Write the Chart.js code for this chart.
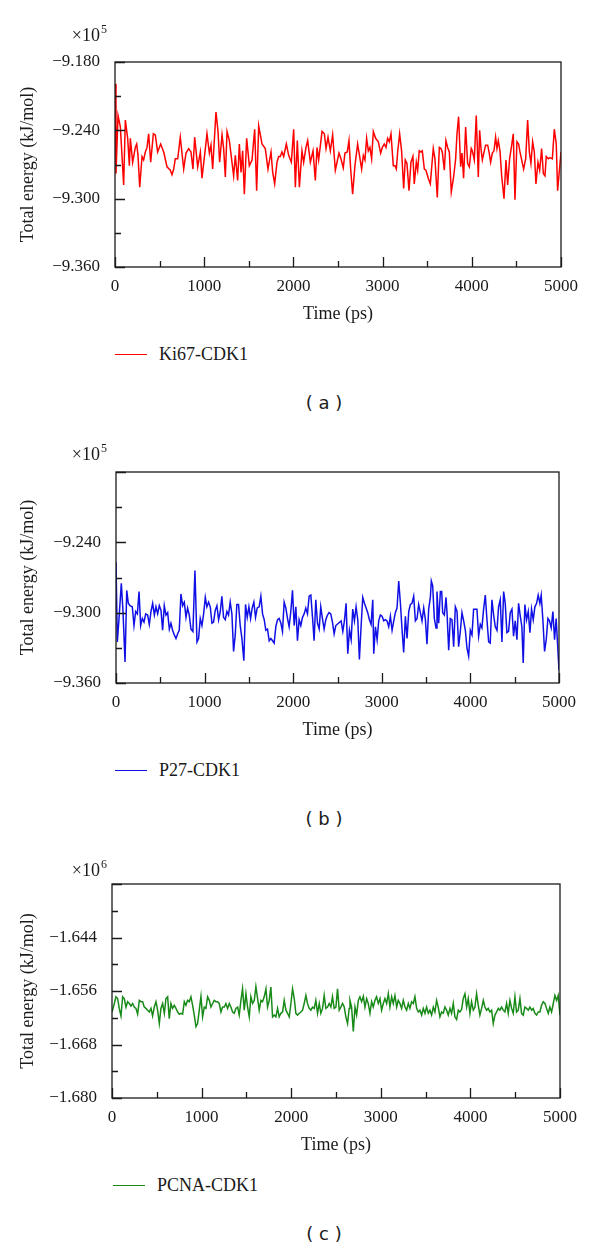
<!DOCTYPE html>
<html>
<head>
<meta charset="utf-8">
<script src="https://cdn.jsdelivr.net/npm/chart.js@4.4.1/dist/chart.umd.min.js"></script>
<style>
  body { margin: 0; background: #fff; width: 600px; height: 1249px; position: relative; overflow: hidden; }
  canvas { position: absolute; left: 0; }
  .legend { position: absolute; display: flex; align-items: center; font: 18px "Liberation Serif", serif; color: #1a1a1a; }
  .legend span.line { display: inline-block; width: 32px; height: 0; border-top: 1.5px solid; margin-right: 12px; }
  .caption { position: absolute; left: 274px; width: 100px; text-align: center; font: 18px "DejaVu Sans", sans-serif; color: #1a1a1a; }
</style>
</head>
<body>
<canvas id="chartA" width="600" height="340" style="top:0px"></canvas>
<canvas id="chartB" width="600" height="340" style="top:415px"></canvas>
<canvas id="chartC" width="600" height="340" style="top:830px"></canvas>

<div class="legend" style="left:115px; top:344px"><span class="line" style="border-color:#ff0000"></span>Ki67-CDK1</div>
<div class="caption" style="top:392px">( a )</div>
<div class="legend" style="left:115px; top:760px"><span class="line" style="border-color:#1010e6"></span>P27-CDK1</div>
<div class="caption" style="top:808px">( b )</div>
<div class="legend" style="left:113px; top:1175px"><span class="line" style="border-color:#188a18"></span>PCNA-CDK1</div>
<div class="caption" style="top:1223px">( c )</div>

<script>
// x axis: time in ps, labelled every 1000
const xTickLabels = [0, 1000, 2000, 3000, 4000, 5000];

// (a) Ki67-CDK1, energy in units of 10^5 kJ/mol
const timeA = [0,11,34,60,97,116,142,161,172,198,
  228,243,258,277,303,321,340,359,377,400,
  430,452,478,512,546,583,620,639,658,676,
  703,732,770,796,826,852,874,893,927,957,
  975,1013,1031,1058,1076,1095,1132,1155,1173,1200,
  1218,1237,1256,1282,1330,1349,1375,1394,1413,1431,
  1450,1476,1506,1536,1566,1588,1611,1648,1685,1715,
  1749,1768,1790,1816,1835,1853,1872,1891,1921,1947,
  1977,2003,2022,2044,2067,2096,2115,2141,2160,2190,
  2220,2246,2265,2283,2321,2347,2366,2388,2414,2440,
  2470,2489,
  2511,2533,2559,2578,2604,2623,2642,2664,2690,2720,
  2743,2765,2784,2802,2821,2840,2858,2877,2896,2922,
  2952,2978,2997,3019,3038,3056,3075,3094,3120,3139,
  3154,3169,3191,3213,3236,3254,3273,3296,3318,3340,
  3355,3378,3393,3411,3430,3445,3468,3486,3512,3535,
  3568,3587,3613,3636,3654,3669,3692,3710,3729,3748,
  3770,3796,3819,3834,3852,3875,3890,3908,3931,3953,
  3972,3994,4006,4028,4050,4073,4088,4103,4118,4140,
  4155,4178,4193,4211,4230,4249,4267,4282,4297,4316,
  4335,4361,4383,4402,4424,4447,4465,4484,4506,4525,
  4540,4559,4581,4604,4626,4645,4663,4682,4701,4719,
  4742,4761,4783,4802,4820,4835,4858,4876,4903,4925,
  4947,4962,5000];
const energyA = [-9.199,-9.278,-9.227,-9.237,-9.288,-9.231,-9.247,-9.271,-9.247,-9.268,
  -9.255,-9.252,-9.262,-9.290,-9.263,-9.266,-9.259,-9.255,-9.243,-9.268,
  -9.243,-9.244,-9.259,-9.252,-9.259,-9.272,-9.275,-9.279,-9.274,-9.265,
  -9.265,-9.246,-9.274,-9.260,-9.256,-9.259,-9.274,-9.246,-9.272,-9.259,
  -9.282,-9.256,-9.243,-9.260,-9.253,-9.274,-9.224,-9.241,-9.268,-9.244,
  -9.256,-9.281,-9.241,-9.249,-9.280,-9.262,-9.284,-9.252,-9.277,-9.258,
  -9.296,-9.247,-9.271,-9.266,-9.239,-9.293,-9.236,-9.252,-9.256,-9.274,
  -9.259,-9.277,-9.287,-9.268,-9.263,-9.263,-9.259,-9.263,-9.252,-9.262,
  -9.268,-9.239,-9.290,-9.249,-9.290,-9.258,-9.268,-9.255,-9.249,-9.268,
  -9.258,-9.284,-9.255,-9.266,-9.241,-9.243,-9.256,-9.246,-9.258,-9.244,
  -9.275,-9.268,
  -9.260,-9.265,-9.273,-9.260,-9.259,-9.249,-9.274,-9.296,-9.271,-9.252,
  -9.263,-9.274,-9.262,-9.266,-9.247,-9.258,-9.255,-9.265,-9.241,-9.247,
  -9.250,-9.260,-9.255,-9.252,-9.255,-9.247,-9.250,-9.243,-9.271,-9.271,
  -9.274,-9.259,-9.243,-9.258,-9.291,-9.266,-9.269,-9.293,-9.268,-9.263,
  -9.287,-9.268,-9.275,-9.258,-9.259,-9.258,-9.274,-9.275,-9.282,-9.287,
  -9.256,-9.265,-9.299,-9.255,-9.256,-9.259,-9.275,-9.249,-9.255,-9.259,
  -9.294,-9.281,-9.265,-9.243,-9.228,-9.272,-9.260,-9.282,-9.237,-9.269,
  -9.272,-9.256,-9.258,-9.266,-9.227,-9.281,-9.240,-9.256,-9.266,-9.258,
  -9.253,-9.253,-9.259,-9.268,-9.260,-9.258,-9.246,-9.256,-9.249,-9.258,
  -9.280,-9.300,-9.266,-9.288,-9.265,-9.253,-9.243,-9.301,-9.250,-9.252,
  -9.259,-9.266,-9.274,-9.265,-9.231,-9.259,-9.269,-9.250,-9.259,-9.287,
  -9.268,-9.275,-9.256,-9.278,-9.280,-9.263,-9.265,-9.264,-9.265,-9.239,
  -9.252,-9.293,-9.259];
const yLabelsA = [-9.360, -9.300, -9.240, -9.180];

// (b) P27-CDK1, energy in units of 10^5 kJ/mol
const timeB = [0,15,34,60,79,102,121,139,158,184,
  203,222,241,260,278,297,316,335,357,376,
  395,414,433,451,470,489,508,526,545,564,
  583,602,620,639,658,677,696,714,733,752,
  771,790,808,827,846,868,891,914,932,951,
  970,989,1008,1026,1045,1064,1083,1101,1120,1139,
  1158,1177,1195,1214,1233,1252,1270,1289,1308,1327,
  1346,1364,1383,1402,1421,1443,1462,1481,1500,1519,
  1537,1556,1575,1594,1616,1635,1654,1673,1691,1710,
  1729,1748,1767,1785,1804,1823,1842,1861,1879,1898,
  1917,1936,1954,1973,1992,2011,2030,2048,2067,2086,
  2105,2124,2142,2161,2180,2199,2218,2236,2255,2274,
  2293,2311,2330,2349,2368,2387,2405,2424,2443,2462,
  2481,
  2541,2560,2578,2597,2616,2635,2654,2672,2691,2710,
  2729,2747,2766,2785,2804,2823,2841,2860,2879,2898,
  2909,2928,2947,2965,2984,3003,3022,3041,3059,3078,
  3097,3116,3135,3153,3172,3191,3210,3229,3247,3266,
  3285,3304,3322,3341,3360,3379,3398,3416,3435,3454,
  3473,3492,3510,3529,3548,3559,3574,3593,3612,3623,
  3642,3661,3676,3687,3706,3725,3736,3755,3773,3792,
  3811,3830,3849,3867,3886,3905,3924,3943,3961,3980,
  3999,4018,4036,4055,4074,4093,4112,4130,4149,4168,
  4187,4206,4224,4243,4262,4281,4300,4318,4337,4356,
  4375,4393,4412,4431,4450,4469,4487,4506,4525,4544,
  4563,4581,4596,4615,4634,4653,4672,4690,4709,4728,
  4747,4765,4784,4799,4818,4837,4856,4875,4893,4912,
  4931,4950,4968,5000];
const energyB = [-9.257,-9.325,-9.305,-9.275,-9.299,-9.342,-9.281,-9.292,-9.294,-9.295,
  -9.311,-9.299,-9.301,-9.282,-9.311,-9.305,-9.308,-9.301,-9.302,-9.310,
  -9.299,-9.292,-9.302,-9.295,-9.301,-9.294,-9.298,-9.315,-9.294,-9.302,
  -9.300,-9.314,-9.309,-9.315,-9.319,-9.322,-9.318,-9.315,-9.284,-9.294,
  -9.291,-9.304,-9.296,-9.302,-9.314,-9.316,-9.264,-9.325,-9.322,-9.305,
  -9.311,-9.301,-9.287,-9.295,-9.291,-9.295,-9.309,-9.308,-9.298,-9.294,
  -9.306,-9.299,-9.286,-9.304,-9.306,-9.299,-9.302,-9.291,-9.301,-9.333,
  -9.319,-9.293,-9.293,-9.311,-9.322,-9.341,-9.293,-9.304,-9.295,-9.305,
  -9.296,-9.291,-9.304,-9.296,-9.295,-9.286,-9.301,-9.306,-9.315,-9.314,
  -9.324,-9.322,-9.324,-9.326,-9.312,-9.306,-9.305,-9.309,-9.316,-9.291,
  -9.296,-9.305,-9.312,-9.299,-9.281,-9.311,-9.295,-9.324,-9.306,-9.311,
  -9.304,-9.301,-9.296,-9.301,-9.286,-9.285,-9.304,-9.324,-9.289,-9.309,
  -9.314,-9.295,-9.305,-9.314,-9.306,-9.302,-9.300,-9.301,-9.308,-9.318,
  -9.311,
  -9.307,-9.316,-9.307,-9.292,-9.335,-9.315,-9.323,-9.297,-9.307,-9.295,
  -9.306,-9.340,-9.312,-9.287,-9.292,-9.296,-9.300,-9.306,-9.310,-9.289,
  -9.335,-9.312,-9.323,-9.307,-9.302,-9.303,-9.307,-9.306,-9.307,-9.312,
  -9.303,-9.315,-9.307,-9.300,-9.296,-9.273,-9.292,-9.315,-9.334,-9.303,
  -9.322,-9.299,-9.293,-9.292,-9.286,-9.307,-9.305,-9.293,-9.300,-9.307,
  -9.296,-9.306,-9.327,-9.297,-9.287,-9.273,-9.277,-9.305,-9.313,-9.282,
  -9.309,-9.282,-9.282,-9.300,-9.302,-9.287,-9.300,-9.332,-9.305,-9.306,
  -9.329,-9.295,-9.299,-9.329,-9.316,-9.300,-9.307,-9.315,-9.330,-9.337,
  -9.315,-9.319,-9.297,-9.297,-9.297,-9.320,-9.310,-9.313,-9.297,-9.285,
  -9.306,-9.325,-9.326,-9.289,-9.302,-9.312,-9.315,-9.295,-9.289,-9.325,
  -9.282,-9.292,-9.317,-9.316,-9.300,-9.297,-9.320,-9.307,-9.323,-9.292,
  -9.303,-9.312,-9.343,-9.293,-9.306,-9.299,-9.317,-9.297,-9.306,-9.295,
  -9.292,-9.285,-9.292,-9.285,-9.306,-9.333,-9.323,-9.305,-9.307,-9.313,
  -9.299,-9.323,-9.305,-9.349];
const yLabelsB = [-9.360, -9.300, -9.240];

// (c) PCNA-CDK1, energy in units of 10^6 kJ/mol
const timeC = [0,26,44,63,81,100,119,137,156,174,
  193,212,230,249,267,286,305,323,342,360,
  379,398,416,435,453,472,491,509,528,546,
  565,584,602,621,639,658,676,695,714,732,
  751,769,788,807,825,844,862,881,900,918,
  937,955,974,993,1011,1030,1048,1067,1086,1104,
  1123,1141,1160,1178,1197,1216,1234,1253,1271,1290,
  1309,1327,1346,1364,1383,1402,1420,1439,1457,1476,
  1495,1513,1532,1550,1569,1588,1606,1625,1643,1662,
  1680,1699,1718,1736,1755,1773,1792,1811,1829,1848,
  1866,1885,1904,1922,1941,1959,1978,1997,2015,2034,
  2052,2071,2090,2108,2127,2145,2164,2182,2201,2220,
  2238,2257,2275,2294,2313,2331,2350,2368,2387,2406,
  2424,2443,2461,2480,2499,2517,2536,2554,2573,2592,
  2610,2629,2647,
  2656,2674,2693,2712,2730,2749,2767,2786,2805,2823,
  2842,2860,2879,2898,2916,2935,2953,2972,2991,3009,
  3028,3046,3065,3084,3102,3121,3139,3158,3177,3195,
  3214,3232,3251,3270,3288,3307,3325,3344,3363,3381,
  3400,3418,3437,3456,3474,3493,3511,3530,3548,3567,
  3586,3604,3623,3641,3660,3679,3697,3716,3734,3753,
  3772,3790,3809,3827,3846,3865,3883,3902,3920,3939,
  3958,3976,3995,4013,4032,4051,4069,4088,4106,4125,
  4144,4162,4181,4199,4218,4237,4255,4274,4292,4311,
  4329,4348,4367,4385,4404,4422,4441,4460,4478,4497,
  4515,4534,4553,4571,4590,4608,4627,4646,4664,4683,
  4701,4720,4739,4757,4776,4794,4813,4832,4850,4869,
  4887,4906,4925,4943,4962,4980,5000];
const energyC = [-1.6607,-1.6588,-1.6573,-1.6577,-1.6599,-1.6616,-1.6573,-1.6577,-1.6596,-1.6584,
  -1.6588,-1.6594,-1.6588,-1.6596,-1.6599,-1.6612,-1.6581,-1.6584,-1.6584,-1.6596,
  -1.6599,-1.6603,-1.6607,-1.6599,-1.6616,-1.6596,-1.6584,-1.6603,-1.6633,-1.6599,
  -1.6588,-1.6610,-1.6577,-1.6573,-1.6622,-1.6588,-1.6599,-1.6592,-1.6599,-1.6607,
  -1.6612,-1.6610,-1.6612,-1.6584,-1.6592,-1.6581,-1.6584,-1.6573,-1.6592,-1.6614,
  -1.6640,-1.6633,-1.6603,-1.6572,-1.6618,-1.6596,-1.6599,-1.6573,-1.6581,-1.6596,
  -1.6588,-1.6581,-1.6584,-1.6584,-1.6588,-1.6607,-1.6596,-1.6596,-1.6588,-1.6599,
  -1.6588,-1.6596,-1.6607,-1.6610,-1.6599,-1.6596,-1.6614,-1.6581,-1.6555,-1.6603,
  -1.6566,-1.6596,-1.6618,-1.6573,-1.6588,-1.6581,-1.6550,-1.6577,-1.6603,-1.6581,
  -1.6584,-1.6573,-1.6555,-1.6596,-1.6581,-1.6551,-1.6618,-1.6614,-1.6618,-1.6599,
  -1.6618,-1.6610,-1.6607,-1.6581,-1.6603,-1.6610,-1.6618,-1.6588,-1.6555,-1.6577,
  -1.6610,-1.6614,-1.6610,-1.6607,-1.6603,-1.6588,-1.6570,-1.6588,-1.6599,-1.6603,
  -1.6596,-1.6599,-1.6581,-1.6610,-1.6588,-1.6610,-1.6599,-1.6570,-1.6599,-1.6596,
  -1.6588,-1.6596,-1.6573,-1.6599,-1.6596,-1.6555,-1.6603,-1.6596,-1.6588,-1.6596,
  -1.6618,-1.6633,-1.6599,
  -1.6581,-1.6596,-1.6651,-1.6596,-1.6614,-1.6581,-1.6573,-1.6584,-1.6572,-1.6596,
  -1.6577,-1.6588,-1.6610,-1.6584,-1.6596,-1.6581,-1.6573,-1.6588,-1.6577,-1.6603,
  -1.6588,-1.6577,-1.6588,-1.6566,-1.6596,-1.6573,-1.6588,-1.6570,-1.6596,-1.6581,
  -1.6588,-1.6599,-1.6581,-1.6596,-1.6603,-1.6588,-1.6599,-1.6584,-1.6588,-1.6573,
  -1.6599,-1.6607,-1.6603,-1.6614,-1.6599,-1.6610,-1.6596,-1.6610,-1.6603,-1.6614,
  -1.6596,-1.6607,-1.6581,-1.6596,-1.6618,-1.6607,-1.6610,-1.6596,-1.6603,-1.6614,
  -1.6599,-1.6610,-1.6588,-1.6618,-1.6624,-1.6603,-1.6607,-1.6601,-1.6577,-1.6566,
  -1.6596,-1.6577,-1.6610,-1.6584,-1.6603,-1.6596,-1.6566,-1.6592,-1.6614,-1.6599,
  -1.6581,-1.6596,-1.6603,-1.6599,-1.6607,-1.6603,-1.6633,-1.6614,-1.6607,-1.6599,
  -1.6603,-1.6596,-1.6603,-1.6607,-1.6588,-1.6610,-1.6581,-1.6599,-1.6610,-1.6573,
  -1.6607,-1.6603,-1.6577,-1.6610,-1.6614,-1.6596,-1.6599,-1.6603,-1.6596,-1.6603,
  -1.6599,-1.6610,-1.6614,-1.6607,-1.6607,-1.6592,-1.6584,-1.6588,-1.6599,-1.6610,
  -1.6596,-1.6607,-1.6588,-1.6570,-1.6581,-1.6570,-1.6614];
const yLabelsC = [-1.680, -1.668, -1.656, -1.644];

const TEXT = '#1a1a1a';
const SERIF = '"Liberation Serif", "Times New Roman", serif';

// frame, inward tick marks (long at labels, short between) and the x10^n factor
const axisDecor = {
  id: 'axisDecor',
  afterDraw(chart, args, opts) {
    const { ctx, chartArea: a, scales: { x, y } } = chart;
    ctx.save();
    ctx.strokeStyle = TEXT;
    ctx.lineWidth = 1.3;
    ctx.strokeRect(a.left, a.top, a.right - a.left, a.bottom - a.top);
    ctx.beginPath();
    x.ticks.forEach(t => {
      const px = Math.round(x.getPixelForValue(t.value)) + 0.5;
      const len = xTickLabels.includes(t.value) ? 10 : 6;
      ctx.moveTo(px, a.bottom);
      ctx.lineTo(px, a.bottom - len);
    });
    y.ticks.forEach(t => {
      const py = Math.round(y.getPixelForValue(t.value)) + 0.5;
      const k = Math.round((t.value - y.min) / opts.step);
      const len = k % 2 === 0 ? 10 : 6;
      ctx.moveTo(a.left, py);
      ctx.lineTo(a.left + len, py);
    });
    ctx.stroke();

    ctx.fillStyle = TEXT;
    ctx.textBaseline = 'alphabetic';
    ctx.textAlign = 'right';
    ctx.font = '18px ' + SERIF;
    ctx.fillText('\u00d710', opts.expX, opts.expY);
    ctx.textAlign = 'left';
    ctx.font = '12px ' + SERIF;
    ctx.fillText(opts.exp, opts.expX + 1, opts.expY - 8);
    ctx.restore();
  }
};

function isLabel(v, list) {
  return list.some(l => Math.abs(l - v) < 1e-6);
}

function makePanel(id, times, energies, color, yMin, yMax, yStep, yLabels, exp, geom) {
  const points = times.map((t, i) => ({ x: t, y: energies[i] }));
  return new Chart(document.getElementById(id), {
    type: 'line',
    data: {
      datasets: [{
        data: points,
        borderColor: color,
        borderWidth: 1.5,
        pointRadius: 0,
        tension: 0,
        fill: false
      }]
    },
    options: {
      responsive: false,
      animation: false,
      layout: { padding: { top: geom.top, right: geom.right, left: 0, bottom: 0 } },
      plugins: {
        legend: { display: false },
        tooltip: { enabled: false },
        axisDecor: { step: yStep, exp: exp, expX: 100, expY: geom.expY }
      },
      scales: {
        x: {
          type: 'linear',
          min: 0,
          max: 5000,
          grid: { display: false },
          border: { display: false },
          afterFit: s => { s.height = geom.xHeight; },
          ticks: {
            stepSize: 500,
            autoSkip: false,
            maxRotation: 0,
            padding: 1,
            color: TEXT,
            font: { family: SERIF, size: 17 },
            callback: v => xTickLabels.includes(v) ? String(v) : ''
          },
          title: {
            display: true,
            text: 'Time (ps)',
            color: TEXT,
            font: { family: SERIF, size: 18 },
            padding: { top: 0, bottom: geom.titlePad }
          }
        },
        y: {
          type: 'linear',
          min: yMin,
          max: yMax,
          grid: { display: false },
          border: { display: false },
          afterFit: s => { s.width = geom.left; },
          ticks: {
            stepSize: yStep,
            autoSkip: false,
            padding: 7,
            color: TEXT,
            font: { family: SERIF, size: 17 },
            callback: v => isLabel(v, yLabels) ? '\u2212' + Math.abs(v).toFixed(3) : ''
          },
          title: {
            display: true,
            text: 'Total energy (kJ/mol)',
            color: TEXT,
            font: { family: SERIF, size: 18 },
            padding: { top: 17, bottom: 0 }
          }
        }
      }
    },
    plugins: [axisDecor]
  });
}

makePanel('chartA', timeA, energyA, '#ff0000', -9.36, -9.18, 0.03, yLabelsA, '5',
  { top: 62, right: 39, left: 115, xHeight: 73, titlePad: 15, expY: 41 });
makePanel('chartB', timeB, energyB, '#1010e6', -9.36, -9.18, 0.03, yLabelsB, '5',
  { top: 57, right: 41, left: 116, xHeight: 72, titlePad: 14, expY: 45 });
makePanel('chartC', timeC, energyC, '#188a18', -1.680, -1.632, 0.006, yLabelsC, '6',
  { top: 54, right: 40, left: 112, xHeight: 72, titlePad: 14, expY: 46 });
</script>
</body>
</html>
